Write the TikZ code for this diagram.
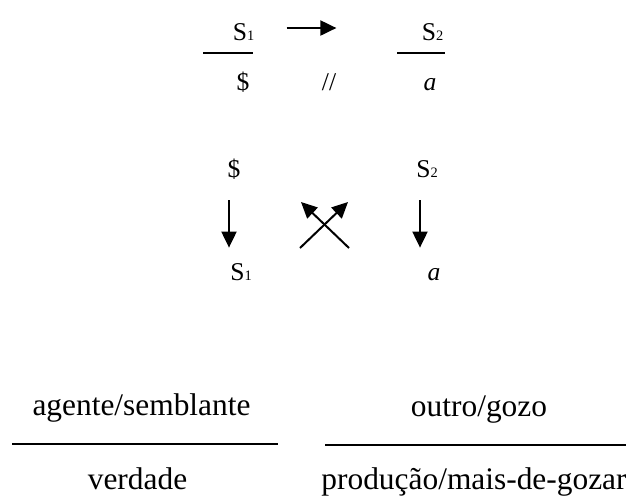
\documentclass[tikz,border=0pt]{standalone}
\usepackage{fontspec}
\setmainfont{Liberation Serif}
\usetikzlibrary{arrows.meta}
\newcommand{\topsz}{\fontsize{12.8pt}{15pt}\selectfont}
\newcommand{\botsz}{\fontsize{15.7pt}{18pt}\selectfont}
\newcommand{\idx}[1]{{\fontsize{7.2pt}{8pt}\selectfont #1}}

\begin{document}
\begin{tikzpicture}[
  x=0.5pt, y=-0.5pt,
  >={Triangle[length=8pt,width=7.5pt]},
  sym/.style={font=\topsz, inner sep=0pt, anchor=base, text height=9pt, text depth=0pt},
  role/.style={font=\botsz, inner sep=0pt, anchor=base},
  arr/.style={->, line width=1pt},
  bar/.style={line width=0.8pt}
]
\useasboundingbox (0,0) rectangle (626,495);

\node[sym] (S1top) at (243.5,40) {S\idx{1}};
\node[sym] (S2top) at (432.5,40) {S\idx{2}};
\node[sym] (Ftop) at (243,90) {\$};
\node[sym] (bar2) at (329,90) {//};
\node[sym] (atop) at (430,90) {\textit{a}};
\draw[bar] (203,53) -- (253,53);
\draw[bar] (397,53) -- (445,53);
\draw[arr, shorten <=16pt, shorten >=42.5pt] ([yshift=1.5pt]S1top.east) -- ([yshift=1.5pt]S2top.west);

\node[sym] (Fmid) at (234,177) {\$};
\node[sym] (S2mid) at (427,177) {S\idx{2}};
\node[sym] (S1mid) at (241,280) {S\idx{1}};
\node[sym] (amid) at (434,280) {\textit{a}};
\draw[arr, shorten <=11.5pt, shorten >=7pt] ([xshift=-2.5pt]Fmid.south) -- ([xshift=-2.5pt]Fmid.south |- S1mid.north);
\draw[arr, shorten <=11.5pt, shorten >=7pt] ([xshift=-3.5pt]S2mid.south) -- ([xshift=-3.5pt]S2mid.south |- amid.north);

\coordinate (crossSW) at (300,248);
\coordinate (crossNE) at (348,202);
\coordinate (crossSE) at (349,248);
\coordinate (crossNW) at (301,202);
\draw[arr] (crossSW) -- (crossNE);
\draw[arr] (crossSE) -- (crossNW);

\node[role] (agent) at (141.5,415) {agente/semblante};
\node[role] (other) at (479,416) {outro/gozo};
\node[role] (truth) at (137.5,489) {verdade};
\node[role] (prod) at (474,489) {produção/mais-de-gozar};
\draw[bar] (12,444) -- (278,444);
\draw[bar] (325,445) -- (633,445);
\end{tikzpicture}
\end{document}
